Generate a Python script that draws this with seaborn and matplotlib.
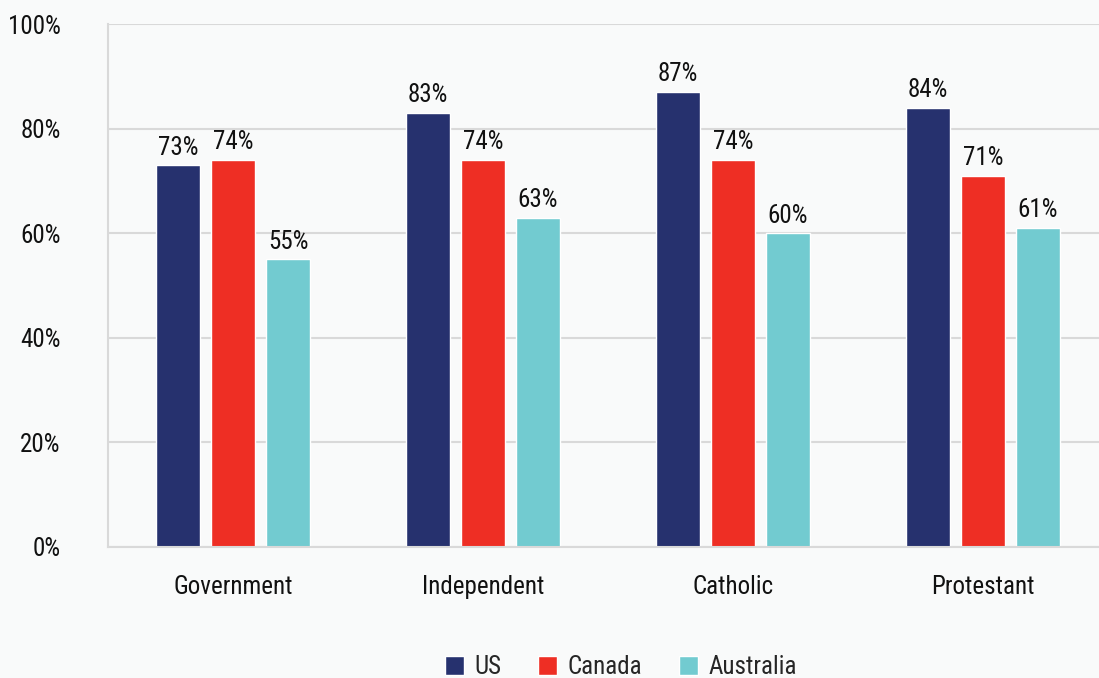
import matplotlib
matplotlib.use("Agg")
import matplotlib.pyplot as plt
from matplotlib import font_manager
import seaborn as sns
import pandas as pd

sectors = ["Government", "Independent", "Catholic", "Protestant"]
countries = ["US", "Canada", "Australia"]
us_values = [73, 83, 87, 84]
canada_values = [74, 74, 74, 71]
australia_values = [55, 63, 60, 61]
y_ticks = [0, 20, 40, 60, 80, 100]
y_tick_labels = ["0%", "20%", "40%", "60%", "80%", "100%"]

colors = {"US": "#26316e", "Canada": "#ee2e24", "Australia": "#72cbd0"}
bg = "#f9fafa"

sns.set_theme(style="white")
installed = {f.name for f in font_manager.fontManager.ttflist}
family = [f for f in ["Liberation Sans Narrow", "Roboto Condensed", "Roboto", "DejaVu Sans"] if f in installed]
plt.rcParams["font.family"] = family

df = pd.DataFrame({
    "sector": sectors * 3,
    "country": [c for c in countries for _ in sectors],
    "value": us_values + canada_values + australia_values,
})

fig = plt.figure(figsize=(10.99, 6.78), dpi=100, facecolor=bg)
ax = fig.add_axes([108 / 1099, 131 / 678, 991 / 1099, 523 / 678])
ax.set_facecolor(bg)

sns.barplot(data=df, x="sector", y="value", hue="country", order=sectors,
            hue_order=countries, palette=colors, width=0.66, gap=0.2,
            saturation=1, ax=ax, legend=True)

for cont in ax.containers:
    ax.bar_label(cont, labels=[f"{v:.0f}%" for v in cont.datavalues],
                 padding=4, fontsize=18, color="#111111")

ax.set_ylim(0, 100)
ax.set_xlim(-0.5, 3.464)
ax.set_yticks(y_ticks)
ax.set_yticklabels(y_tick_labels, fontsize=18, color="#111111")
ax.tick_params(axis="x", labelsize=18, labelcolor="#111111", pad=20, length=0)
ax.tick_params(axis="y", pad=34, length=0)
ax.set_xlabel("")
ax.set_ylabel("")
ax.yaxis.grid(True, color="#d9d9d9", linewidth=1.5)
ax.set_axisbelow(True)
for side in ["top", "right"]:
    ax.spines[side].set_visible(False)
ax.spines["left"].set_color("#d9d9d9")
ax.spines["left"].set_linewidth(1.5)
ax.spines["bottom"].set_color("#d9d9d9")
ax.spines["bottom"].set_linewidth(1.5)

handles, labels = ax.get_legend_handles_labels()
ax.legend_.remove()
fig.legend(handles, labels, loc="lower center", bbox_to_anchor=(0.565, -0.035),
           ncol=3, frameon=False, fontsize=18, handlelength=0.75, handleheight=0.75,
           handletextpad=0.4, columnspacing=1.5)

fig.savefig("out.png", dpi=100, facecolor=bg)
